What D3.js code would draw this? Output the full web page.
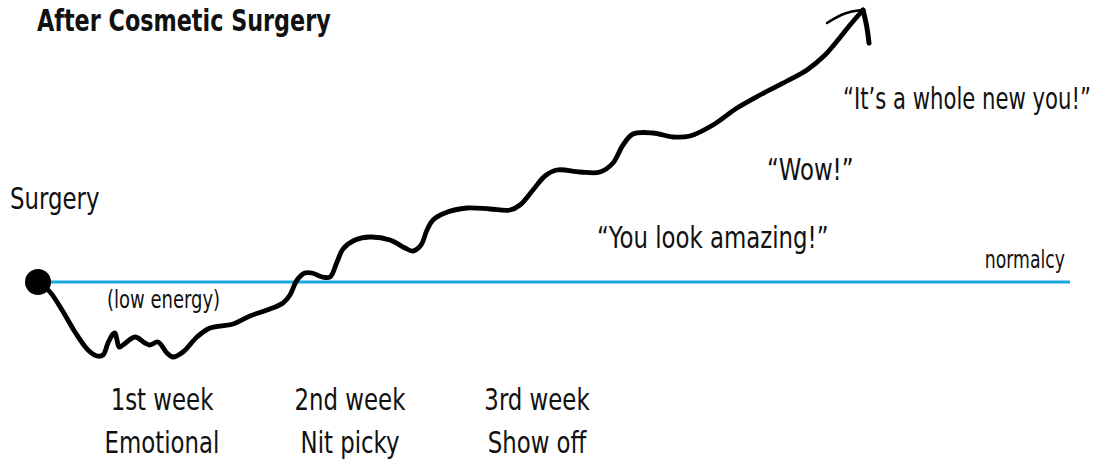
<!DOCTYPE html>
<html>
<head>
<meta charset="utf-8">
<script src="https://cdn.jsdelivr.net/npm/d3@7"></script>
<style>
  html, body { margin: 0; padding: 0; background: #fff; }
  svg text {
    font-family: "DejaVu Sans Condensed", "DejaVu Sans", sans-serif;
    font-stretch: condensed;
    fill: #111;
  }
</style>
</head>
<body>
<svg id="chart" width="1105" height="464"></svg>
<script>
// time since surgery (arbitrary units) and mood relative to normalcy (0)
const journeyTime = [
  0, 1.2, 2.4, 3.7, 5.0, 5.9, 6.5, 7.0, 7.5, 7.7, 7.9, 8.1, 8.5, 9.7, 10.7, 11.2,
  12.0, 12.9, 13.5, 14.5, 15.9, 17.2, 19.5, 21.2, 22.9, 24.5, 25.2, 25.9, 26.7,
  27.4, 28.4, 29.2, 29.9, 30.5, 31.7, 33.2, 35.2, 36.7, 37.5, 38.3, 38.9, 39.5,
  40.7, 42.9, 45.2, 47.2, 48.2, 49.5, 50.7, 51.9, 54.2, 56.2, 57.5, 58.5, 59.5,
  61.5, 63.5, 65.2, 67.5, 69.9, 72.2, 74.9, 76.9, 78.7, 80.0, 81.2, 82.5
];
const journeyMood = [
  0, -1.0, -2.8, -5.0, -6.8, -7.4, -7.3, -6.1, -5.2, -5.1, -5.8, -6.5, -6.3, -5.5, -6.1, -6.3,
  -6.0, -7.1, -7.5, -7.0, -5.5, -4.6, -4.2, -3.4, -2.8, -2.1, -1.3, 0.2, 0.9,
  0.9, 0.5, 0.5, 2.0, 3.3, 4.2, 4.5, 4.2, 3.4, 3.1, 3.7, 5.2, 6.2,
  6.9, 7.4, 7.3, 7.2, 7.7, 9.2, 10.6, 11.2, 11.0, 11.0, 11.9, 13.7, 14.8,
  14.9, 14.5, 14.6, 15.7, 17.4, 18.7, 20.1, 21.2, 22.7, 24.2, 25.7, 27.2
];
// arrow barbs: offsets from the tip, in the same units
const barbLeft = [[0, 0], [-1.8, -0.2], [-3.6, -1.3]];
const barbRight = [[0, 0], [0.4, -1.6], [0.6, -3.3]];

const weekNames = ["1st week", "2nd week", "3rd week"];
const weekMoods = ["Emotional", "Nit picky", "Show off"];
const weekTime = [12.4, 31.2, 49.9];

const quoteTexts = ["\u201CYou look amazing!\u201D", "\u201CWow!\u201D", "\u201CIt\u2019s a whole new you!\u201D"];
const quoteTime = [55.9, 72.9, 80.5];
const quoteMood = [3.4, 10.2, 17.3];

const normalcyRange = [0, 103.2];

const svg = d3.select("#chart");
const width = +svg.attr("width");

const x = d3.scaleLinear().domain([0, 103.2]).range([38, 1070]);
const y = d3.scaleLinear().domain([-10, 28]).range([382, 2]);

// narrow lettering: squeeze the condensed face a bit more,
// and a bit further if a label would run past the right edge
const SQUEEZE = 0.82;
const RIGHT_LIMIT = width - 14;
const addText = (px, py, str, size, opts = {}) => {
  const t = svg.append("text")
    .attr("font-size", size)
    .attr("font-weight", opts.bold ? "bold" : null)
    .attr("text-anchor", opts.anchor ?? "start")
    .text(str);
  let k = opts.squeeze ?? SQUEEZE;
  if ((opts.anchor ?? "start") === "start") {
    const len = t.node().getComputedTextLength();
    if (px + len * k > RIGHT_LIMIT) k = (RIGHT_LIMIT - px) / len;
  }
  t.attr("transform", `translate(${px},${py}) scale(${k},1)`);
  return t;
};

// title
addText(37, 31, "After Cosmetic Surgery", 31, { bold: true, squeeze: 0.8 });

// normalcy baseline
svg.append("line")
  .attr("x1", x(normalcyRange[0]))
  .attr("x2", x(normalcyRange[1]))
  .attr("y1", y(0))
  .attr("y2", y(0))
  .attr("stroke", "#1aa8e2")
  .attr("stroke-width", 3);

addText(x(normalcyRange[1]) - 5, y(0) - 14, "normalcy", 24, { anchor: "end", squeeze: 0.8 });

// the journey line
const points = journeyTime.map((t, i) => [t, journeyMood[i]]);
const line = d3.line()
  .x((d) => x(d[0]))
  .y((d) => y(d[1]))
  .curve(d3.curveCatmullRom.alpha(0.5));

svg.append("path")
  .attr("d", line(points))
  .attr("fill", "none")
  .attr("stroke", "#000")
  .attr("stroke-width", 4.8)
  .attr("stroke-linecap", "round")
  .attr("stroke-linejoin", "round");

// arrow head
const tip = points[points.length - 1];
const barbLine = d3.line()
  .x((d) => x(tip[0] + d[0]))
  .y((d) => y(tip[1] + d[1]))
  .curve(d3.curveBasis);

svg.append("path")
  .attr("d", barbLine(barbLeft))
  .attr("fill", "none")
  .attr("stroke", "#000")
  .attr("stroke-width", 2.5)
  .attr("stroke-linecap", "round");

svg.append("path")
  .attr("d", barbLine(barbRight))
  .attr("fill", "none")
  .attr("stroke", "#000")
  .attr("stroke-width", 5)
  .attr("stroke-linecap", "round");

// surgery dot
svg.append("circle")
  .attr("cx", x(points[0][0]))
  .attr("cy", y(points[0][1]))
  .attr("r", 13)
  .attr("fill", "#000");

addText(10, 209, "Surgery", 31);
addText(107, 308, "(low energy)", 25, { squeeze: 0.8 });

// week labels
weekNames.forEach((name, i) => {
  addText(x(weekTime[i]), 410, name, 31, { anchor: "middle" });
  addText(x(weekTime[i]), 453, weekMoods[i], 31, { anchor: "middle" });
});

// quotes
quoteTexts.forEach((q, i) => {
  addText(x(quoteTime[i]), y(quoteMood[i]), q, 31);
});
</script>
</body>
</html>
